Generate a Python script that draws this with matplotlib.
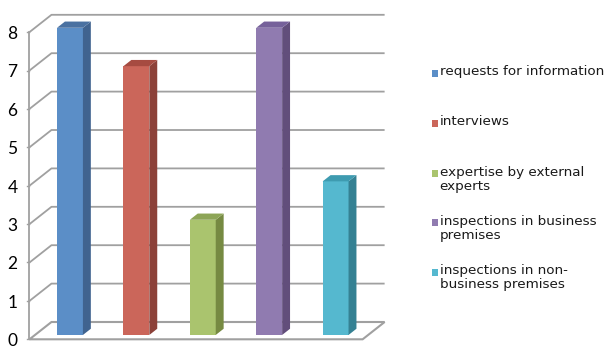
import matplotlib
matplotlib.use("Agg")
import matplotlib.pyplot as plt
from matplotlib.patches import Polygon, Rectangle

# ---------- data ----------
categories = ["requests for information", "interviews",
              "expertise by external\nexperts",
              "inspections in business\npremises",
              "inspections in non-\nbusiness premises"]
values = [8, 7, 3, 8, 4]
yticks = [0, 1, 2, 3, 4, 5, 6, 7, 8]

# front / side / top shades for each bar
front_col = ["#5B8EC7", "#CB665A", "#AAC46E", "#907BB0", "#55B8CF"]
side_col = ["#40638F", "#8C4139", "#768A42", "#624E7B", "#358193"]
top_col = ["#4A71A1", "#A64B41", "#8DA557", "#76619A", "#3E9BB0"]

grid_col = "#A0A0A0"

# ---------- 3d look ----------
DX, DY = 0.331, 0.4505       # depth offset of the back wall (data units)
F0, F1 = 0.25, 0.61          # depth range occupied by bars
BW = 0.39                    # bar width
XL, XR = -0.527, 4.49        # floor extent along x

fig = plt.figure(figsize=(6.07, 3.46), dpi=100)
ax = fig.add_axes([0, 0, 1, 1])
ax.set_xlim(-0.971, 8.170)
ax.set_ylim(-0.1745, 8.836)
ax.axis("off")


def p(x, v, d):
    return (x + d * DX, v + d * DY)


# gridlines on left and back walls
for v in yticks[1:]:
    xs, ys = zip(p(XL, v, 0), p(XL, v, 1), p(XR, v, 1))
    ax.plot(xs, ys, color=grid_col, lw=1.3, solid_capstyle="butt", zorder=1)
    ax.plot([XL - 0.03, XL], [v, v], color=grid_col, lw=1.0, zorder=1)

# floor outline
floor = [p(XL, 0, 0), p(XR, 0, 0), p(XR, 0, 1), p(XL, 0, 1)]
ax.add_patch(Polygon(floor, closed=True, fill=False, edgecolor=grid_col,
                     lw=1.5, zorder=1))
ax.plot([XL - 0.03, XL], [0, 0], color=grid_col, lw=1.0, zorder=1)

# vertical axis line
ax.plot([XL, XL], [0, yticks[-1]], color=grid_col, lw=1.3, zorder=2)

for t in yticks:
    ax.text(XL - 0.18, t - 0.05, str(t), ha="right", va="center",
            fontsize=12.5, family="Lato", color="black")

# bars
for i, v in enumerate(values):
    xl, xr = i - BW / 2, i + BW / 2
    fx, fy = p(xl, 0, F0)
    ax.add_patch(Rectangle((fx, fy), BW, v, facecolor=front_col[i],
                           edgecolor="none", zorder=3))
    side = [p(xr, 0, F0), p(xr, 0, F1), p(xr, v, F1), p(xr, v, F0)]
    ax.add_patch(Polygon(side, closed=True, facecolor=side_col[i],
                         edgecolor="none", zorder=3))
    top = [p(xl, v, F0), p(xr, v, F0), p(xr, v, F1), p(xl, v, F1)]
    ax.add_patch(Polygon(top, closed=True, facecolor=top_col[i],
                         edgecolor="none", zorder=3))

# legend
leg_y = [73, 122.7, 173.3, 222, 271.7]
for i, lab in enumerate(categories):
    yf = 1 - leg_y[i] / 346
    fig.patches.append(Rectangle((432 / 607, yf - 4 / 346), 6 / 607, 7 / 346,
                                 facecolor=front_col[i], edgecolor="none",
                                 transform=fig.transFigure, figure=fig))
    fig.text(439.5 / 607, yf + 7.5 / 346, lab, ha="left", va="top",
             fontsize=9.7, family="DejaVu Sans", color="#1A1A1A",
             linespacing=1.12)

plt.savefig("out.png", dpi=100)
